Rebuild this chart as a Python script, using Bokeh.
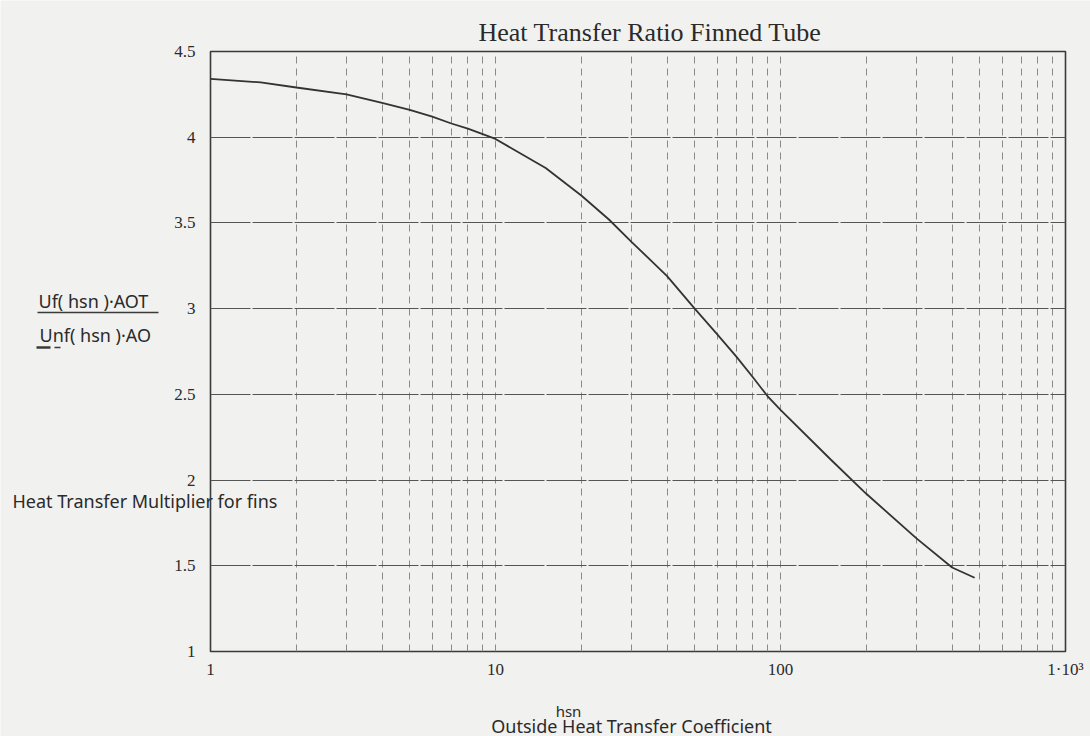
from bokeh.plotting import figure
from bokeh.layouts import column
from bokeh.models import FixedTicker, Label, Range1d
from bokeh.embed import file_html
from bokeh.resources import INLINE

# Heat transfer multiplier for a finned tube vs. outside heat transfer coefficient
hsn = [1, 1.5, 2, 3, 4, 5, 6, 7, 8, 10, 15, 20, 25, 30, 40, 50, 60, 70, 80, 90,
       100, 150, 200, 300, 400, 480]
ratio = [4.34, 4.32, 4.29, 4.25, 4.20, 4.16, 4.12, 4.08, 4.05, 3.99, 3.82, 3.66,
         3.52, 3.39, 3.19, 3.00, 2.85, 2.72, 2.60, 2.49, 2.41, 2.12, 1.92, 1.66,
         1.49, 1.43]

x_major = [1, 10, 100, 1000]
x_labels = {1: "1", 10: "10", 100: "100", 1000: "1·10³"}
x_grid = [2, 3, 4, 5, 6, 7, 8, 9, 10, 20, 30, 40, 50, 60, 70, 80, 90, 100,
          200, 300, 400, 500, 600, 700, 800, 900]
y_ticks = [1, 1.5, 2, 2.5, 3, 3.5, 4, 4.5]

INK = "#3a3a3a"
TEXT = "#2a2a2a"
PAPER = "#f1f1ef"
SERIF = "Liberation Serif"
SANS = "Noto Sans"

W, H = 1090, 736
LEFT, RIGHT, TOP, BOTTOM = 210, 25, 51, 85


def no_frame_align(fig):
    # keep each canvas' own borders when stacked in a layout
    if "frame_align" in fig.properties():
        fig.frame_align = False


# ---- caption sheet: page-sized canvas in pixel coordinates (y grows down) ----
cap = figure(width=W, height=H, x_range=Range1d(0, W), y_range=Range1d(H, 0),
             title=None, output_backend="svg", toolbar_location=None,
             x_axis_location=None, y_axis_location=None, min_border=0)
cap.background_fill_color = PAPER
cap.border_fill_color = PAPER
cap.outline_line_color = None
cap.grid.visible = False
no_frame_align(cap)


def caption(x, y, text, size, font=SANS, align="left"):
    cap.add_layout(Label(x=x, y=y, text=text, text_font=font,
                         text_font_size=size, text_color=TEXT,
                         text_align=align, text_baseline="alphabetic"))


# y-axis caption: the plotted expression as a fraction, with its line sample
caption(38, 300, "Uf( hsn )·AOT", "18px")
cap.line([37, 158], [312, 312], line_color=INK, line_width=1.4)
caption(39, 334, "Unf( hsn )·AO", "18px")
cap.line([36, 50], [347, 347], line_color=INK, line_width=2.5)
cap.line([54, 60], [347, 347], line_color=INK, line_width=1.5)
caption(12, 500, "Heat Transfer Multiplier for fins", "18px")

# x-axis caption
caption(568, 710, "hsn", "15px", align="center")
caption(631, 725, "Outside Heat Transfer Coefficient", "18px", align="center")

# ---- the chart itself, laid over the caption sheet ----
p = figure(width=W, height=H, x_axis_type="log",
           x_range=Range1d(1, 1000), y_range=Range1d(1, 4.5),
           output_backend="svg", toolbar_location=None,
           min_border_left=LEFT, min_border_right=RIGHT,
           min_border_top=TOP, min_border_bottom=BOTTOM)
no_frame_align(p)
p.margin = (-H, 0, 0, 0)
p.background_fill_alpha = 0
p.border_fill_alpha = 0
p.outline_line_color = INK
p.outline_line_width = 1.6

p.title.text = "Heat Transfer Ratio Finned Tube"
p.title.align = "left"
p.title.offset = 478 - LEFT
p.title.text_font = SERIF
p.title.text_font_size = "26px"
p.title.text_font_style = "normal"
p.title.text_color = TEXT

# x axis: decade labels only, Mathcad style
p.xaxis.ticker = FixedTicker(ticks=x_major)
p.xaxis.major_label_overrides = x_labels
p.xaxis.major_label_text_font = SERIF
p.xaxis.major_label_text_font_size = "17px"
p.xaxis.major_label_text_color = TEXT
p.xaxis.major_label_standoff = 2
p.xaxis.axis_line_color = None
p.xaxis.major_tick_line_color = None
p.xaxis.minor_tick_line_color = None

p.yaxis.ticker = FixedTicker(ticks=y_ticks)
p.yaxis.major_label_text_font = SERIF
p.yaxis.major_label_text_font_size = "17px"
p.yaxis.major_label_text_color = TEXT
p.yaxis.major_label_standoff = 9
p.yaxis.axis_line_color = None
p.yaxis.major_tick_line_color = None
p.yaxis.minor_tick_line_color = None

# grid: dashed verticals at every log step, near-solid horizontals
p.xgrid.ticker = FixedTicker(ticks=x_grid)
p.xgrid.grid_line_color = "#8a8a8a"
p.xgrid.grid_line_dash = "7 5"
p.xgrid.grid_line_width = 1
p.ygrid.ticker = FixedTicker(ticks=y_ticks[1:-1])
p.ygrid.grid_line_color = "#555555"
p.ygrid.grid_line_dash = "40 2"
p.ygrid.grid_line_width = 1.2

p.line(hsn, ratio, line_color="#333333", line_width=1.8)

page = column(cap, p)
open("out.html", "w").write(file_html(page, INLINE))
